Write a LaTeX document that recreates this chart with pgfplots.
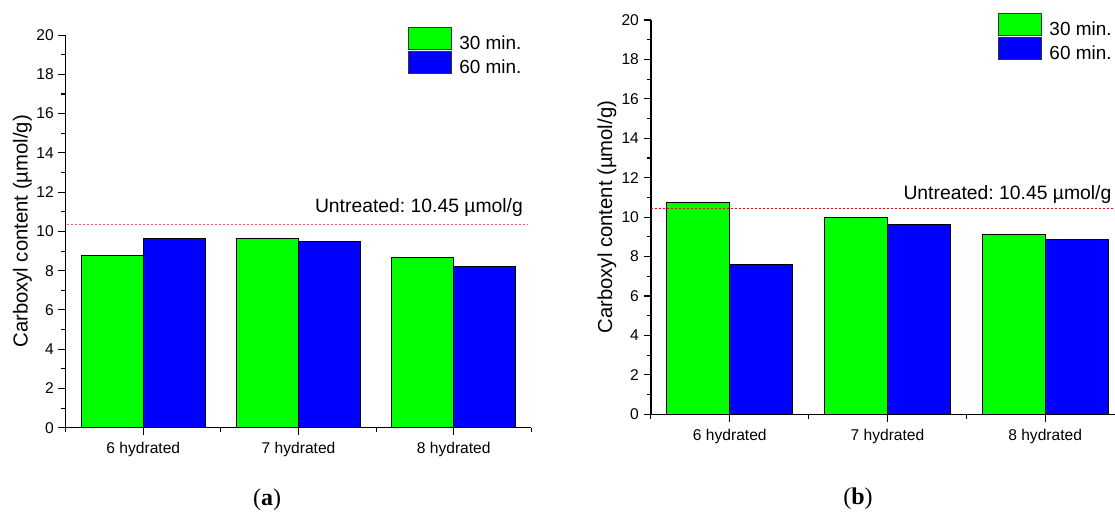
\documentclass[border=0pt]{standalone}
\usepackage{fontspec}
\setmainfont{Liberation Sans}
\newfontfamily\capfont{Liberation Serif}
\usepackage{pgfplots}
\pgfplotsset{compat=1.18}
\definecolor{bargreen}{RGB}{0,255,0}
\definecolor{barblue}{RGB}{0,0,255}
\definecolor{lightred}{RGB}{255,90,90}
\frenchspacing

\pgfplotsset{
  panel/.style={
    scale only axis,
    axis x line*=bottom, axis y line*=left,
    axis line style={line width=1.1pt},
    xmin=-0.5, xmax=2.5, ymin=0, ymax=20,
    xtick={0,1,2}, xticklabels={6 hydrated,7 hydrated,8 hydrated},
    minor xtick={-0.5,0.5,1.5,2.5},
    ytick={0,2,...,20}, minor ytick={1,3,...,19},
    tick align=outside,
    major tick length=5.5pt, minor tick length=3.2pt,
    every tick/.style={black, line width=0.8pt},
    tick label style={font=\fontsize{11.7}{14}\selectfont},
    xticklabel style={yshift=-1.8pt},
    /pgf/number format/assume math mode=true,
    ylabel={Carboxyl content (µmol/g)},
    ylabel style={font=\fontsize{15.2}{18}\selectfont, at={(axis description cs:-0.093,0.5)}, anchor=center},
    legend style={draw=none, fill=none, inner sep=0pt, row sep=-2.6pt,
      font=\fontsize{14.2}{17}\selectfont, anchor=north west,
      /tikz/every odd column/.style={column sep=3.5pt}},
    legend cell align=left,
    clip=false,
  },
  barA/.style={ybar, bar width=0.4, bar shift=-0.2, fill=bargreen, draw=black, line width=0.75pt,
    legend image code/.code={\draw[fill=bargreen, draw=black!80, line width=0.75pt] (0pt,-4.2pt) rectangle (32.4pt,12.3pt);}},
  barB/.style={ybar, bar width=0.4, bar shift=0.2, fill=barblue, draw=black, line width=0.75pt,
    legend image code/.code={\draw[fill=barblue, draw=black!80, line width=0.75pt] (0pt,-4.2pt) rectangle (32.4pt,12.3pt);}},
}

\begin{document}
\begin{tikzpicture}
\useasboundingbox (0,0) rectangle (836.25pt,384pt);
\clip (0,0) rectangle (836.25pt,384pt);

% (a)
\begin{axis}[panel, at={(49.3pt,63.2pt)}, anchor=south west,
  width=349.2pt, height=294.5pt,
  legend style={at={(axis description cs:0.734,1.021)}}]
\addplot[barA] coordinates {(0,8.78) (1,9.63) (2,8.68)};
\addlegendentry{30 min.}
\addplot[barB] coordinates {(0,9.65) (1,9.51) (2,8.20)};
\addlegendentry{60 min.}
\addplot[lightred, line width=0.8pt, dash pattern=on 1.6pt off 1.4pt, forget plot]
  coordinates {(-0.49,10.36) (2.48,10.36)};
\node[anchor=base east, font=\fontsize{14.5}{17}\selectfont, inner sep=0pt]
  at (axis cs:2.447,10.95) {Untreated: 10.45 µmol/g};
\end{axis}

% (b)
\begin{axis}[panel, at={(488.2pt,73.3pt)}, anchor=south west,
  width=354.8pt, height=295.7pt,
  legend style={at={(axis description cs:0.733,1.0195)}}]
\addplot[barA] coordinates {(0,10.73) (1,9.97) (2,9.13)};
\addlegendentry{30 min.}
\addplot[barB] coordinates {(0,7.59) (1,9.63) (2,8.87)};
\addlegendentry{60 min.}
\addplot[red, line width=0.8pt, dash pattern=on 1.6pt off 1.4pt, forget plot]
  coordinates {(-0.5,10.45) (2.5,10.45)};
\node[anchor=base west, font=\fontsize{14.5}{17}\selectfont, inner sep=0pt]
  at (axis cs:1.100,10.90) {Untreated: 10.45 µmol/g};
\end{axis}

\node[font=\capfont\fontsize{18}{21}\selectfont] at (200.25pt,9pt) {(\textbf{a})};
\node[font=\capfont\fontsize{18}{21}\selectfont] at (643.5pt,9.75pt) {(\textbf{b})};
\end{tikzpicture}
\end{document}
